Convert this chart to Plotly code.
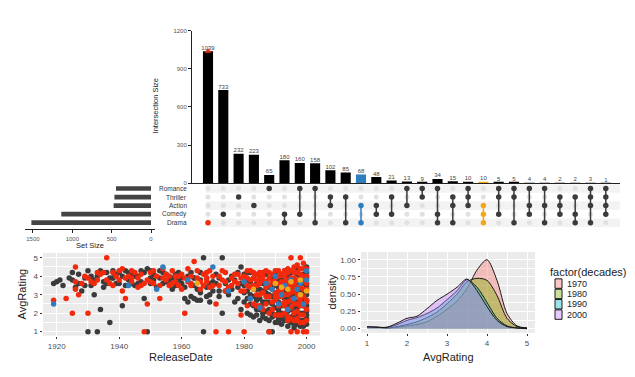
import plotly.graph_objects as go

W, H = 635, 377
def fx(x): return x / W
def fy(y): return 1 - y / H

# ---------------- data ----------------
sets = ["Drama", "Comedy", "Action", "Thriller", "Romance"]
set_sizes = [1520, 1140, 475, 465, 445]

inter_sets = [
    ["Drama"], ["Comedy"], ["Thriller"], ["Action"], ["Romance"],
    ["Comedy", "Drama"], ["Romance", "Comedy"], ["Romance", "Drama"],
    ["Thriller", "Action"], ["Thriller", "Drama"], ["Action", "Drama"],
    ["Action", "Comedy"], ["Thriller", "Comedy"], ["Romance", "Action"],
    ["Romance", "Thriller"], ["Romance", "Comedy", "Drama"],
    ["Thriller", "Action", "Drama"], ["Romance", "Thriller", "Action"],
    ["Action", "Comedy", "Drama"], ["Romance", "Thriller", "Comedy"],
    ["Romance", "Thriller", "Drama"], ["Romance", "Action", "Comedy"],
    ["Romance", "Action", "Drama"], ["Thriller", "Action", "Comedy"],
    ["Thriller", "Comedy", "Drama"], ["Romance", "Thriller", "Action", "Drama"],
    ["Romance", "Thriller", "Action", "Comedy"],
]
inter_sizes = [1039, 733, 232, 223, 65, 180, 160, 158, 102, 85, 68, 48, 21, 13, 9,
               34, 15, 10, 10, 5, 5, 4, 4, 2, 2, 3, 1]

# scatter: ReleaseDate vs AvgRating
grey_year = [1919, 1920, 1921, 1922, 1925, 1925, 1926, 1927, 1928, 1929, 1930, 1930, 1931, 1932, 1933, 1933,
             1934, 1935, 1936, 1937, 1937, 1938, 1939, 1940, 1941, 1941, 1942, 1943, 1944, 1945, 1946, 1947,
             1948, 1948, 1949, 1949, 1950, 1951, 1952, 1953, 1954, 1955, 1956, 1957, 1958, 1959, 1960, 1961,
             1962, 1963, 1963, 1964, 1965, 1966, 1967, 1967, 1968, 1969, 1970, 1971, 1972, 1973, 1973, 1974,
             1975, 1976, 1977, 1978, 1979, 1979, 1980, 1981, 1981, 1982, 1982, 1983, 1983, 1984, 1984, 1985,
             1985, 1985, 1986, 1986, 1987, 1987, 1987, 1988, 1988, 1988, 1989, 1989, 1989, 1989, 1990, 1990,
             1990, 1990, 1991, 1991, 1991, 1992, 1992, 1992, 1992, 1993, 1993, 1993, 1993, 1994, 1994, 1994,
             1994, 1995, 1995, 1995, 1995, 1996, 1996, 1996, 1996, 1997, 1997, 1997, 1997, 1998, 1998, 1998,
             1998, 1999, 1999, 1999, 1999, 2000, 2000, 2000, 2000, 1938, 1944, 1950, 1956, 1958, 1964, 1966,
             1972, 1976, 1978, 1984, 1986, 1991, 1994, 1997, 2000, 1999, 1996]
grey_rating = [3.6, 3.7, 3.8, 3.5, 4.2, 3.8, 3.4, 3.6, 3.2, 3.9, 1.0, 4.3, 3.5, 3.0, 1.0, 4.0,
               2.2, 3.7, 4.2, 1.5, 3.9, 4.3, 4.1, 3.6, 2.4, 4.0, 4.3, 3.8, 4.1, 3.5, 4.0, 3.7,
               2.8, 4.2, 1.0, 4.4, 3.9, 4.1, 3.4, 3.9, 4.2, 3.7, 4.0, 3.3, 4.1, 3.8, 3.9, 2.8,
               2.6, 2.9, 4.2, 3.5, 2.7, 3.8, 5.0, 1.0, 3.4, 3.0, 3.7, 4.1, 3.2, 5.0, 2.0, 3.6,
               3.0, 4.0, 2.6, 3.4, 2.2, 4.5, 3.1, 2.0, 3.8, 2.5, 4.2, 1.8, 3.3, 2.2, 3.6, 1.6,
               2.8, 4.0, 2.0, 3.2, 1.7, 2.6, 3.7, 1.0, 2.2, 3.0, 1.0, 1.8, 2.5, 3.5, 1.5, 2.3,
               3.1, 4.1, 1.7, 2.6, 3.4, 1.4, 2.0, 2.9, 3.8, 1.6, 2.4, 3.2, 4.3, 1.3, 2.1, 2.8,
               3.6, 1.5, 2.2, 3.0, 3.9, 1.2, 1.9, 2.6, 3.4, 1.4, 2.3, 3.1, 4.4, 1.6, 2.5, 3.3,
               4.0, 1.3, 2.0, 2.7, 3.6, 1.7, 2.4, 3.0, 4.5, 3.9, 3.6, 4.3, 3.8, 3.5, 3.9, 3.1,
               2.9, 3.3, 2.8, 2.7, 2.5, 2.0, 1.8, 1.9, 1.9, 1.5, 1.4]
grey_extra = [(1924, 3.9), (1927, 4.1), (1929, 3.5), (1931, 4.0), (1932, 3.8), (1934, 4.3), (1935, 3.4),
              (1936, 3.6), (1938, 3.9), (1939, 3.6), (1940, 4.2), (1942, 3.5), (1943, 4.2), (1945, 4.0),
              (1946, 3.6), (1947, 4.3), (1950, 3.6), (1951, 3.8), (1953, 4.3), (1954, 3.6), (1955, 4.1),
              (1957, 3.9), (1958, 3.5), (1959, 4.2), (1960, 3.6), (1961, 3.4), (1962, 4.0), (1964, 3.9),
              (1965, 3.3), (1966, 4.2), (1968, 3.9), (1969, 3.6), (1970, 3.2), (1971, 3.6), (1972, 3.9),
              (1974, 3.2), (1975, 3.8), (1976, 3.3), (1977, 3.8), (1978, 4.2), (1979, 3.6), (1964, 2.8),
              (1966, 2.7), (1968, 2.9), (1969, 2.6),
              (1980, 2.6), (1980, 3.5), (1980, 4.1), (1981, 2.8), (1981, 3.2), (1981, 4.2), (1982, 1.9),
              (1982, 3.0), (1982, 3.7), (1983, 2.4), (1983, 2.9), (1983, 3.9), (1984, 1.9), (1984, 2.8),
              (1984, 3.3), (1985, 2.2), (1985, 3.3), (1985, 3.7), (1986, 1.8), (1986, 2.6), (1986, 3.6),
              (1987, 2.1), (1987, 3.1), (1987, 4.1), (1988, 1.6), (1988, 2.6), (1988, 3.4), (1989, 2.0),
              (1989, 2.9), (1989, 3.9), (1990, 1.9), (1990, 2.7), (1990, 3.5), (1991, 1.5), (1991, 2.2),
              (1991, 3.0), (1991, 3.8), (1992, 1.7), (1992, 2.4), (1992, 3.3), (1992, 4.1), (1993, 1.9),
              (1993, 2.8), (1993, 3.6), (1994, 1.6), (1994, 2.4), (1994, 3.2), (1994, 4.0), (1995, 1.8),
              (1995, 2.6), (1995, 3.4), (1995, 4.2), (1996, 1.5), (1996, 2.3), (1996, 3.0), (1996, 3.8),
              (1997, 1.7), (1997, 2.6), (1997, 3.5), (1997, 4.1), (1998, 1.3), (1998, 2.0), (1998, 2.8),
              (1998, 3.7), (1999, 1.6), (1999, 2.4), (1999, 3.2), (1999, 4.1), (2000, 1.4), (2000, 2.1),
              (2000, 2.7), (2000, 3.5), (2000, 4.2)]

red_year = [1919, 1923, 1925, 1926, 1926, 1928, 1930, 1930, 1932, 1934, 1936, 1936, 1938, 1939, 1940, 1941,
            1942, 1943, 1944, 1945, 1946, 1947, 1948, 1949, 1949, 1950, 1951, 1952, 1953, 1954, 1955, 1956,
            1957, 1958, 1959, 1960, 1961, 1961, 1962, 1963, 1964, 1965, 1966, 1967, 1968, 1969, 1970, 1971,
            1971, 1972, 1973, 1974, 1975, 1975, 1976, 1977, 1978, 1979, 1979, 1980, 1980, 1981, 1982, 1982,
            1983, 1984, 1984, 1985, 1985, 1986, 1986, 1987, 1987, 1988, 1988, 1989, 1989, 1990, 1990, 1991,
            1991, 1991, 1992, 1992, 1993, 1993, 1993, 1994, 1994, 1994, 1994, 1995, 1995, 1995, 1995, 1995,
            1996, 1996, 1996, 1996, 1997, 1997, 1997, 1997, 1997, 1998, 1998, 1998, 1998, 1998, 1999, 1999,
            1999, 1999, 1999, 2000, 2000, 2000, 2000, 1927, 1933, 1944, 1947, 1955, 1958, 1963, 1968, 1974,
            1983, 1986, 1989, 1992, 1996, 1998, 2000, 1997, 1994, 1999, 1993, 1990, 1988]
red_rating = [2.7, 2.8, 2.0, 4.5, 3.7, 3.6, 2.0, 3.9, 3.6, 4.1, 5.0, 3.8, 3.5, 4.0, 4.3, 3.2,
              2.8, 4.0, 3.7, 4.2, 3.4, 4.1, 1.0, 2.5, 3.8, 4.2, 3.6, 4.0, 2.8, 3.9, 4.1, 3.5,
              4.3, 3.7, 4.0, 3.3, 2.0, 3.9, 4.4, 3.6, 4.8, 3.9, 3.3, 4.1, 3.7, 4.3, 3.5, 1.0,
              2.5, 4.0, 3.8, 4.2, 1.0, 3.4, 3.9, 4.1, 3.6, 1.9, 3.2, 1.0, 4.0, 3.5, 2.8, 4.3,
              3.9, 3.0, 4.1, 2.4, 3.6, 3.8, 4.2, 2.9, 3.4, 1.0, 3.9, 2.2, 4.1, 2.7, 3.6, 1.9,
              3.2, 4.3, 2.5, 3.7, 2.0, 3.0, 4.0, 1.8, 2.6, 3.5, 4.4, 1.0, 2.3, 3.1, 3.9, 5.0,
              1.6, 2.8, 3.6, 4.2, 1.0, 2.1, 3.0, 3.8, 4.6, 1.5, 2.4, 3.4, 4.1, 5.0, 1.0, 1.9,
              2.9, 3.7, 4.4, 1.0, 2.2, 3.3, 4.0, 3.0, 4.2, 3.9, 3.5, 3.8, 4.0, 3.5, 3.9, 3.2,
              3.5, 3.1, 3.7, 3.2, 3.3, 2.7, 2.6, 1.7, 1.6, 1.5, 2.6, 2.9, 2.0]
red_extra = [(1926, 3.3), (1929, 4.0), (1931, 3.7), (1933, 3.8), (1935, 4.2), (1937, 3.6), (1938, 4.2),
             (1940, 3.8), (1941, 4.4), (1942, 3.9), (1944, 4.3), (1946, 3.9), (1948, 3.6), (1950, 3.7),
             (1951, 4.3), (1953, 3.5), (1954, 4.4), (1956, 4.0), (1957, 3.6), (1959, 3.5), (1960, 4.1),
             (1962, 3.7), (1963, 4.0), (1965, 4.3), (1966, 3.7), (1967, 3.5), (1968, 4.2), (1969, 3.4),
             (1970, 4.0), (1972, 3.5), (1973, 4.3), (1974, 3.7), (1976, 3.5), (1977, 3.7), (1978, 4.1),
             (1979, 3.9),
             (1980, 3.2), (1980, 3.7), (1981, 2.4), (1981, 3.9), (1981, 4.3), (1982, 3.4), (1982, 3.8),
             (1983, 2.5), (1983, 3.5), (1983, 4.2), (1984, 2.4), (1984, 3.5), (1984, 3.8), (1985, 3.0),
             (1985, 3.9), (1985, 4.2), (1986, 2.2), (1986, 3.1), (1986, 4.0), (1987, 2.5), (1987, 3.7),
             (1987, 4.3), (1988, 2.9), (1988, 3.5), (1988, 4.2), (1989, 2.6), (1989, 3.3), (1989, 3.7),
             (1990, 1.9), (1990, 3.1), (1990, 3.9), (1990, 4.3), (1991, 2.4), (1991, 2.9), (1991, 3.6),
             (1991, 4.0), (1992, 1.9), (1992, 2.9), (1992, 3.4), (1992, 4.1), (1993, 2.4), (1993, 3.4),
             (1993, 3.7), (1993, 4.3), (1994, 2.2), (1994, 3.0), (1994, 3.8), (1994, 4.2), (1995, 1.7),
             (1995, 2.7), (1995, 3.5), (1995, 4.3), (1996, 2.0), (1996, 2.5), (1996, 3.2), (1996, 3.9),
             (1996, 4.5), (1997, 1.6), (1997, 2.5), (1997, 3.4), (1997, 4.2), (1998, 1.9), (1998, 2.8),
             (1998, 3.0), (1998, 3.7), (1998, 4.4), (1999, 1.5), (1999, 2.4), (1999, 3.3), (1999, 4.0),
             (1999, 4.7), (2000, 1.6), (2000, 2.7), (2000, 3.6), (2000, 3.9), (2000, 4.4)]

blue_year = [1919, 1943, 1952, 1954, 1962, 1970, 1975, 1980, 1982, 1985, 1987, 1989, 1990, 1991, 1992,
             1993, 1994, 1995, 1996, 1997, 1998, 1999, 2000, 2000]
blue_rating = [2.5, 3.5, 3.3, 4.5, 3.8, 4.5, 3.2, 3.7, 2.8, 2.3, 3.6, 3.3, 4.0, 2.5, 3.0,
               3.5, 2.2, 3.8, 2.8, 3.3, 3.6, 2.5, 3.8, 4.3]

orange_year = [1965, 1983, 1990, 1992, 1994, 1995, 1998, 1998, 2000]
orange_rating = [3.6, 3.3, 3.6, 3.4, 3.3, 3.7, 3.0, 3.8, 3.2]

# density of AvgRating by decade
dens_x = [1.0, 1.25, 1.5, 1.75, 2.0, 2.25, 2.5, 2.75, 3.0, 3.25, 3.5, 3.75, 4.0, 4.25, 4.5, 4.75, 5.0]
decades = ["1970", "1980", "1990", "2000"]
dens_1970 = [0.02, 0.02, 0.01, 0.02, 0.04, 0.06, 0.10, 0.18, 0.28, 0.40, 0.58, 0.85, 1.00, 0.70, 0.22, 0.04, 0.01]
dens_1980 = [0.02, 0.02, 0.01, 0.03, 0.06, 0.10, 0.16, 0.24, 0.36, 0.50, 0.68, 0.73, 0.70, 0.48, 0.15, 0.03, 0.01]
dens_1990 = [0.02, 0.02, 0.02, 0.06, 0.12, 0.16, 0.22, 0.30, 0.42, 0.55, 0.71, 0.60, 0.38, 0.15, 0.04, 0.01, 0.00]
dens_2000 = [0.03, 0.02, 0.02, 0.08, 0.15, 0.18, 0.29, 0.41, 0.50, 0.60, 0.72, 0.55, 0.32, 0.12, 0.03, 0.01, 0.00]

# ---------------- styling ----------------
FONT = "Liberation Sans"
BLACK = "#000000"
DARK = "#3b3b3b"
LIGHT = "#e1e1e1"
RED = "#f2290b"
BLUE = "#2d7dbf"
ORANGE = "#f3a81c"
col_color = {0: BLACK, 10: BLUE, 18: ORANGE}
dot_color = {0: RED, 10: BLUE, 18: ORANGE}

fig = go.Figure()
n = len(inter_sizes)
idx = list(range(n))
row_of = {s: i for i, s in enumerate(sets)}

# ---- top bars ----
fig.add_trace(go.Bar(x=idx, y=inter_sizes, width=0.66,
                     marker=dict(color=[col_color.get(i, BLACK) for i in idx], line_width=0),
                     xaxis="x", yaxis="y", showlegend=False))
fig.add_trace(go.Scatter(x=idx, y=inter_sizes, mode="text", text=[str(v) for v in inter_sizes],
                         textposition="top center", textfont=dict(size=6, color="#444444", family=FONT),
                         xaxis="x", yaxis="y", showlegend=False, cliponaxis=False))
fig.add_trace(go.Scatter(x=[0], y=[inter_sizes[0]], mode="markers",
                         marker=dict(symbol="triangle-up", size=6, color=RED),
                         xaxis="x", yaxis="y", showlegend=False, cliponaxis=False))

# ---- matrix ----
ex, ey, fxs, fys, fcs = [], [], [], [], []
line_groups = {}
for i, memb in enumerate(inter_sets):
    rows = [row_of[s] for s in memb]
    for r in range(len(sets)):
        if r in rows:
            fxs.append(i); fys.append(r); fcs.append(dot_color.get(i, DARK))
        else:
            ex.append(i); ey.append(r)
    if len(rows) > 1:
        c = dot_color.get(i, DARK)
        lx, ly = line_groups.setdefault(c, ([], []))
        lx += [i, i, None]; ly += [min(rows), max(rows), None]

fig.add_trace(go.Scatter(x=ex, y=ey, mode="markers", marker=dict(size=5, color=LIGHT),
                         xaxis="x2", yaxis="y2", showlegend=False))
for c, (lx, ly) in line_groups.items():
    fig.add_trace(go.Scatter(x=lx, y=ly, mode="lines", line=dict(color=c, width=1.5),
                             xaxis="x2", yaxis="y2", showlegend=False))
fig.add_trace(go.Scatter(x=fxs, y=fys, mode="markers", marker=dict(size=5.5, color=fcs),
                         xaxis="x2", yaxis="y2", showlegend=False))

# ---- set size bars ----
fig.add_trace(go.Bar(x=set_sizes, y=list(range(len(sets))), orientation="h", width=0.55,
                     marker=dict(color="#434343", line_width=0),
                     xaxis="x3", yaxis="y3", showlegend=False))

# ---- scatter ----
gy = grey_year + [p[0] for p in grey_extra]
gr = grey_rating + [p[1] for p in grey_extra]
ry = red_year + [p[0] for p in red_extra]
rr = red_rating + [p[1] for p in red_extra]
for yr, rt, c in [(gy, gr, DARK), (ry, rr, RED), (blue_year, blue_rating, BLUE),
                  (orange_year, orange_rating, ORANGE)]:
    fig.add_trace(go.Scatter(x=yr, y=rt, mode="markers", marker=dict(size=5.5, color=c),
                             xaxis="x4", yaxis="y4", showlegend=False))

# ---- density ----
dens_fill = ["rgba(248,118,109,0.4)", "rgba(124,174,0,0.4)", "rgba(0,191,196,0.4)", "rgba(199,124,255,0.4)"]
for d, vals, fc in zip(decades, [dens_1970, dens_1980, dens_1990, dens_2000], dens_fill):
    fig.add_trace(go.Scatter(x=dens_x, y=vals, mode="lines", fill="tozeroy", fillcolor=fc,
                             line=dict(color="#1a1a1a", width=1, shape="spline", smoothing=0.8),
                             xaxis="x5", yaxis="y5", showlegend=False))

# ---------------- axes ----------------
sp = 15.3
top_dom = [fx(184), fx(612)]
xr = [-16 / sp, 26 + (612 - 597.8) / sp]
tickfont_small = dict(size=6, color="#555555", family=FONT)
gg_tick = dict(size=8, color="#4d4d4d", family=FONT)

shapes = []
for r in [4, 2, 0]:
    shapes.append(dict(type="rect", xref="x2", yref="y2", x0=xr[0] + 0.9, x1=xr[1], y0=r - 0.5, y1=r + 0.5,
                       fillcolor="#f3f3f3", line_width=0, layer="below"))
shapes.append(dict(type="rect", xref="x4 domain", yref="y4 domain", x0=0, x1=1, y0=0, y1=1,
                   fillcolor="#ebebeb", line_width=0, layer="below"))
shapes.append(dict(type="rect", xref="x5 domain", yref="y5 domain", x0=0, x1=1, y0=0, y1=1,
                   fillcolor="#ebebeb", line_width=0, layer="below"))

gg_axis = dict(showgrid=True, gridcolor="white", gridwidth=1, zeroline=False, ticks="outside",
               ticklen=2.5, tickcolor="#333333", tickfont=gg_tick, showline=False)

fig.update_layout(
    width=W, height=H, margin=dict(l=0, r=0, t=0, b=0),
    paper_bgcolor="white", plot_bgcolor="rgba(0,0,0,0)",
    font=dict(family=FONT),
    xaxis=dict(domain=top_dom, range=xr, showticklabels=False, ticks="", showgrid=False, zeroline=False,
               showline=True, linecolor="#222222", linewidth=1, anchor="y"),
    yaxis=dict(domain=[fy(175), fy(20)], range=[0, 1200], tickvals=[0, 300, 600, 900, 1200],
               showgrid=False, zeroline=False, showline=True, linecolor="#222222", linewidth=1,
               ticks="outside", ticklen=3, tickcolor="#222222", tickfont=tickfont_small, anchor="x"),
    xaxis2=dict(domain=top_dom, range=xr, visible=False, anchor="y2"),
    yaxis2=dict(domain=[fy(219.5), fy(176)], range=[-0.5, 4.5], visible=False, anchor="x2"),
    xaxis3=dict(domain=[fx(17), fx(147)], range=[(143 - 17) / 0.0787, (143 - 147) / 0.0787],
                tickvals=[0, 500, 1000, 1500], showgrid=False, zeroline=False, showline=True,
                linecolor="#222222", linewidth=1, ticks="outside", ticklen=3, tickcolor="#222222",
                tickfont=tickfont_small, anchor="y3"),
    yaxis3=dict(domain=[fy(222), fy(176)], range=[-0.5 - 2.5 / 8.7, 4.5], visible=False, anchor="x3"),
    xaxis4=dict(domain=[fx(35), fx(312)], range=[1915.6, 2004.3], tickvals=[1920, 1940, 1960, 1980, 2000],
                minor=dict(tickvals=[1930, 1950, 1970, 1990], showgrid=True, gridcolor="white", gridwidth=0.5),
                anchor="y4", **gg_axis),
    yaxis4=dict(domain=[fy(330), fy(246)], range=[0.78, 5.25], tickvals=[1, 2, 3, 4, 5],
                minor=dict(tickvals=[1.5, 2.5, 3.5, 4.5], showgrid=True, gridcolor="white", gridwidth=0.5),
                anchor="x4", **gg_axis),
    xaxis5=dict(domain=[fx(353), fx(527)], range=[0.85, 5.2], tickvals=[1, 2, 3, 4, 5],
                minor=dict(tickvals=[1.5, 2.5, 3.5, 4.5], showgrid=True, gridcolor="white", gridwidth=0.5),
                anchor="y5", **gg_axis),
    yaxis5=dict(domain=[fy(327), fy(245)], range=[-0.06, 1.11], tickvals=[0, 0.25, 0.5, 0.75, 1.0],
                tickformat=".2f",
                minor=dict(tickvals=[0.125, 0.375, 0.625, 0.875], showgrid=True, gridcolor="white", gridwidth=0.5),
                anchor="x5", **gg_axis),
)

def A(x, y, text, size, angle=0, xa="center", ya="middle", color="#222222", yref="paper"):
    return dict(xref="paper", yref=yref, x=x, y=y, text=text, showarrow=False, textangle=angle,
                xanchor=xa, yanchor=ya, font=dict(size=size, color=color, family=FONT))

ann = []
for r, s in enumerate(sets):
    ann.append(A(fx(181), r, s, 6.5, xa="right", color="#333333", yref="y2"))
ann.append(A(fx(147), fy(97), "Intersection Size", 7.5, angle=-90))
ann.append(A(fx(82), fy(238), "Set Size", 7.5))
ann.append(A(fx(173), fy(352), "ReleaseDate", 11))
ann.append(A(fx(14), fy(288), "AvgRating", 11, angle=-90))
ann.append(A(fx(440), fy(352), "AvgRating", 11))
ann.append(A(fx(324), fy(286), "density", 11, angle=-90))
ann.append(A(fx(540), fy(265), "factor(decades)", 11, xa="left"))
for k, (d, fc) in enumerate(zip(decades, dens_fill)):
    yc = 277 + k * 10.5
    shapes.append(dict(type="rect", xref="paper", yref="paper", x0=fx(547), x1=fx(554),
                       y0=fy(yc + 4.8), y1=fy(yc - 4.8), fillcolor=fc, line=dict(color="#1a1a1a", width=1)))
    ann.append(A(fx(557), fy(yc), d, 9, xa="left"))
fig.update_layout(annotations=ann, shapes=shapes)

fig.write_html("out.html")
